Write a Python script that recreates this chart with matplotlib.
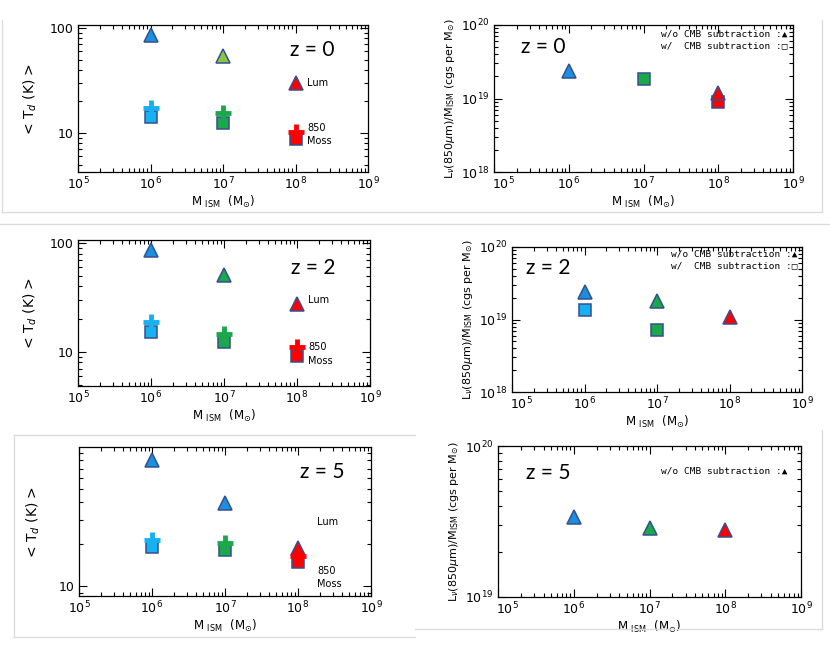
import numpy as np
import matplotlib
matplotlib.use("Agg")
import matplotlib.pyplot as plt
from matplotlib.lines import Line2D
from matplotlib.transforms import ScaledTranslation
from matplotlib.ticker import LogLocator, NullFormatter, FixedLocator, FixedFormatter

plt.rcParams['font.family'] = ['DejaVu Sans']
plt.rcParams['mathtext.fontset'] = 'dejavusans'

# ---------------- data ----------------
masses = [1e6, 1e7, 1e8]

# <T_d> (K) : triangles = Lum, crosses = 850, squares = Moss
z0_T_lum = [86, 54, 30]
z0_T_850 = [17.3, 15.5, 10.3]
z0_T_moss = [14.2, 12.4, 8.8]

z2_T_lum = [86, 51, 27.6]
z2_T_850 = [18.8, 14.6, 11.1]
z2_T_moss = [15.3, 12.4, 9.2]

z5_T_lum = [80.7, 39.8, 18.8]
z5_T_850 = [21.3, 20.5, 16.4]
z5_T_moss = [19.0, 18.1, 14.8]

# L_nu(850um)/M_ISM (cgs per Msun): triangles = w/o CMB, squares = w/ CMB
z0_L_nocmb = [2.37e19, np.nan, 1.2e19]
z0_L_cmb = [np.nan, 1.83e19, 9.1e18]

z2_L_nocmb = [2.4e19, 1.79e19, 1.07e19]
z2_L_cmb = [1.34e19, 7.2e18, np.nan]

z5_L_nocmb = [3.37e19, 2.88e19, 2.79e19]

z_labels = ["z = 0", "z = 2", "z = 5"]

# ---------------- styles ----------------
BLUE = "#1a8fe0"
CYAN = "#17b0f0"
GREEN = "#1aa84a"
LGREEN = "#8cc63f"
RED = "#ff0000"
EDGE = "#34508f"

tri_cols = {0: [BLUE, LGREEN, RED], 2: [BLUE, GREEN, RED], 5: [BLUE, BLUE, RED]}
sq_cols = [CYAN, GREEN, RED]
cross_cols = [CYAN, GREEN, RED]
rtri_cols = [BLUE, GREEN, RED]

W, H = 830, 645
fig = plt.figure(figsize=(W / 100, H / 100), dpi=100)


def ax_px(x0, y0, x1, y1):
    return fig.add_axes([x0 / W, 1 - y1 / H, (x1 - x0) / W, (y1 - y0) / H])


def style(ax, ylim):
    ax.set_xscale('log')
    ax.set_yscale('log')
    ax.set_xlim(1e5, 1e9)
    ax.set_ylim(*ylim)
    ax.tick_params(which='both', direction='in', top=True, right=True,
                   width=0.8, colors='black', labelsize=9)
    ax.tick_params(which='major', length=6, pad=3)
    ax.tick_params(which='minor', length=3)
    ax.xaxis.set_major_locator(FixedLocator([1e5, 1e6, 1e7, 1e8, 1e9]))
    ax.xaxis.set_minor_locator(LogLocator(base=10, subs=np.arange(2, 10)))
    ax.xaxis.set_minor_formatter(NullFormatter())
    ax.yaxis.set_minor_locator(LogLocator(base=10, subs=np.arange(2, 10)))
    ax.yaxis.set_minor_formatter(NullFormatter())
    for s in ax.spines.values():
        s.set_linewidth(0.9)
    ax.set_xlabel(r"M $_{\rm ISM}$  (M$_{\odot}$)", fontsize=8.5, labelpad=1)


def shift_first_xlabel(ax, dx_pt=7):
    fig.canvas.draw()
    lab = ax.get_xticklabels()[0]
    lab.set_transform(lab.get_transform() + ScaledTranslation(dx_pt / 72, 0, fig.dpi_scale_trans))


def plot_T(ax, tri, cross, sq, tcols):
    for i, m in enumerate(masses):
        ax.plot(m, tri[i], '^', ms=10, mfc=tcols[i], mec=EDGE, mew=1.1, zorder=3)
        ax.plot(m, sq[i], 's', ms=8.5, mfc=sq_cols[i], mec=EDGE, mew=1.1, zorder=3)
        ax.plot(m, cross[i], '+', ms=11.5, mec=cross_cols[i], mew=3.5, zorder=4)


def plot_L(ax, tri, sq):
    for i, m in enumerate(masses):
        if sq is not None:
            ax.plot(m, sq[i], 's', ms=8.5, mfc=sq_cols[i], mec=EDGE, mew=1.1, zorder=3)
        ax.plot(m, tri[i], '^', ms=10, mfc=rtri_cols[i], mec=EDGE, mew=1.1, zorder=4)


def labels_T(ax, pos):
    (xl, yl), (x8, y8), (xm, ym) = pos
    ax.text(xl, yl, "Lum", transform=ax.transAxes, fontsize=7, va='center', ha='left')
    ax.text(x8, y8, "850", transform=ax.transAxes, fontsize=7, va='center', ha='left')
    ax.text(xm, ym, "Moss", transform=ax.transAxes, fontsize=7, va='center', ha='left')


def legend_text(ax, x, y, s):
    ax.text(x, y, s, transform=ax.transAxes, ha='right', va='center',
            fontsize=6.8, family=['DejaVu Sans Mono', 'DejaVu Sans'])


T_ylabel = r"< T$_d$ (K) >"
L_ylabel = r"L$_{\nu}$(850$\mu$m)/M$_{\rm ISM}$ (cgs per M$_{\odot}$)"
zfont = dict(family='Lato', fontsize=15)

right_axes = []

# ---------- row 1 (z=0) ----------
ax = ax_px(78, 25, 368, 172)
style(ax, (4.25, 107))
ax.yaxis.set_major_locator(FixedLocator([10, 100]))
ax.yaxis.set_major_formatter(FixedFormatter(["10", "100"]))
plot_T(ax, z0_T_lum, z0_T_850, z0_T_moss, tri_cols[0])
labels_T(ax, [(0.79, 0.605), (0.79, 0.30), (0.79, 0.21)])
ax.text(0.807, 0.83, z_labels[0], transform=ax.transAxes, ha='center', va='center', **zfont)
ax.set_ylabel(T_ylabel, fontsize=10, labelpad=8)

ax = ax_px(494, 25, 793, 172)
style(ax, (1e18, 1e20))
ax.yaxis.set_major_locator(FixedLocator([1e18, 1e19, 1e20]))
plot_L(ax, z0_L_nocmb, z0_L_cmb)
ax.text(0.164, 0.85, z_labels[0], transform=ax.transAxes, ha='center', va='center', **zfont)
legend_text(ax, 0.98, 0.94, "w/o CMB subtraction :\u25b2")
legend_text(ax, 0.98, 0.857, "w/  CMB subtraction :\u25a1")
ax.set_ylabel(L_ylabel, fontsize=8, labelpad=3)
right_axes.append(ax)

# ---------- row 2 (z=2) ----------
ax = ax_px(78, 240, 370, 386)
style(ax, (4.85, 106.5))
ax.yaxis.set_major_locator(FixedLocator([10, 100]))
ax.yaxis.set_major_formatter(FixedFormatter(["10", "100"]))
plot_T(ax, z2_T_lum, z2_T_850, z2_T_moss, tri_cols[2])
labels_T(ax, [(0.788, 0.589), (0.788, 0.267), (0.788, 0.171)])
ax.text(0.805, 0.808, z_labels[1], transform=ax.transAxes, ha='center', va='center', **zfont)
ax.set_ylabel(T_ylabel, fontsize=10, labelpad=8)

ax = ax_px(512, 247, 802, 392)
style(ax, (1e18, 1e20))
ax.yaxis.set_major_locator(FixedLocator([1e18, 1e19, 1e20]))
plot_L(ax, z2_L_nocmb, z2_L_cmb)
ax.text(0.124, 0.855, z_labels[1], transform=ax.transAxes, ha='center', va='center', **zfont)
legend_text(ax, 0.983, 0.95, "w/o CMB subtraction :\u25b2")
legend_text(ax, 0.983, 0.869, "w/  CMB subtraction :\u25a1")
ax.set_ylabel(L_ylabel, fontsize=8, labelpad=3)
right_axes.append(ax)

# ---------- row 3 (z=5) ----------
ax = ax_px(79, 447, 371, 596)
style(ax, (8.5, 100))
ax.yaxis.set_major_locator(FixedLocator([10]))
ax.yaxis.set_major_formatter(FixedFormatter(["10"]))
plot_T(ax, z5_T_lum, z5_T_850, z5_T_moss, tri_cols[5])
labels_T(ax, [(0.815, 0.497), (0.815, 0.168), (0.815, 0.08)])
ax.text(0.832, 0.832, z_labels[2], transform=ax.transAxes, ha='center', va='center', **zfont)
ax.set_ylabel(T_ylabel, fontsize=10, labelpad=12)

ax = ax_px(498, 446, 801, 597)
style(ax, (1e19, 1e20))
ax.yaxis.set_major_locator(FixedLocator([1e19, 1e20]))
plot_L(ax, z5_L_nocmb, None)
ax.text(0.165, 0.82, z_labels[2], transform=ax.transAxes, ha='center', va='center', **zfont)
legend_text(ax, 0.954, 0.834, "w/o CMB subtraction :\u25b2")
ax.set_ylabel(L_ylabel, fontsize=8, labelpad=3)
right_axes.append(ax)

for a in right_axes:
    shift_first_xlabel(a, 7)

# ---------- light grey slide borders ----------
def gline(x0, y0, x1, y1):
    fig.add_artist(Line2D([x0 / W, x1 / W], [1 - y0 / H, 1 - y1 / H],
                          color='#dcdcdc', lw=1.0, transform=fig.transFigure))

gline(2, 20, 2, 212)
gline(2, 212, 822, 212)
gline(822, 20, 822, 212)
gline(0, 224, 830, 224)
gline(14, 435, 14, 637)
gline(14, 435, 415, 435)
gline(14, 637, 415, 637)
gline(822, 430, 822, 629)
gline(415, 629, 822, 629)

fig.savefig("out.png", dpi=100)
